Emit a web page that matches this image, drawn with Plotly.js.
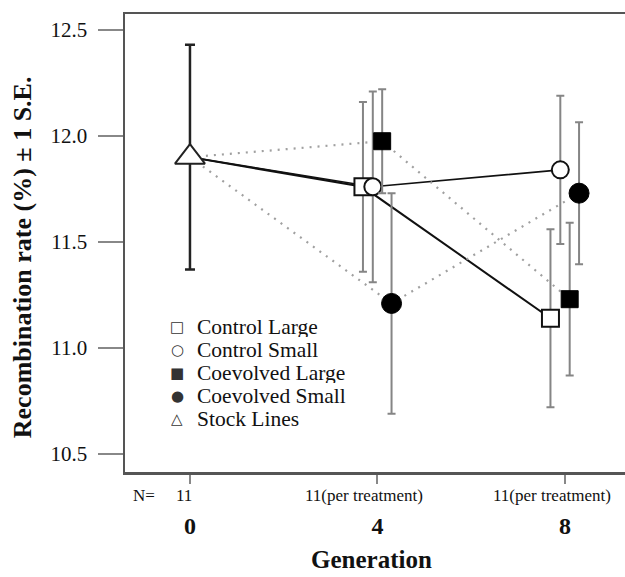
<!DOCTYPE html>
<html>
<head>
<meta charset="utf-8">
<script src="https://cdn.plot.ly/plotly-3.0.1.min.js"></script>
<style>html,body{margin:0;padding:0;background:#fff;}#chart{width:625px;height:577px;}</style>
</head>
<body>
<div id="chart"></div>
<script>
// ---- data ----
var generations = [0, 4, 8];
var genLabels = ['0', '4', '8'];
var nLabels = ['11', '11(per treatment)', '11(per treatment)'];

var stockMean = 11.90;
var stockSE = 0.53;

var seriesNames = ['Control Large', 'Control Small', 'Coevolved Large', 'Coevolved Small'];
// values at generation 4 and 8
var controlLargeMean = [11.76, 11.14];
var controlLargeSE = [0.40, 0.42];
var controlSmallMean = [11.76, 11.84];
var controlSmallSE = [0.45, 0.35];
var coevolvedLargeMean = [11.975, 11.23];
var coevolvedLargeSE = [0.245, 0.36];
var coevolvedSmallMean = [11.21, 11.73];
var coevolvedSmallSE = [0.52, 0.335];

var yTicks = [10.5, 11.0, 11.5, 12.0, 12.5];

// ---- styling ----
var serif = 'Liberation Serif, Times New Roman, serif';
var means = [controlLargeMean, controlSmallMean, coevolvedLargeMean, coevolvedSmallMean];
var ses = [controlLargeSE, controlSmallSE, coevolvedLargeSE, coevolvedSmallSE];
var dodge = [-0.31, -0.10, 0.10, 0.30];
var lineStyles = [
  {color: '#111', width: 2, dash: 'solid'},
  {color: '#111', width: 1.6, dash: 'solid'},
  {color: '#a0a0a0', width: 2.2, dash: '2px,6px'},
  {color: '#a0a0a0', width: 2.2, dash: '2px,6px'}
];
var markerStyles = [
  {symbol: 'square', size: 17, color: '#fff', line: {color: '#111', width: 2}},
  {symbol: 'circle', size: 17, color: '#fff', line: {color: '#111', width: 2}},
  {symbol: 'square', size: 17, color: '#000', line: {color: '#000', width: 1}},
  {symbol: 'circle', size: 20, color: '#000', line: {color: '#000', width: 1}}
];
var glyphs = ['\u25A1', '\u25CB', '\u25A0', '\u25CF', '\u25B3'];

var traces = [];
// connecting lines (from the stock-line mean at generation 0)
for (var i = 0; i < 4; i++) {
  traces.push({
    type: 'scatter', mode: 'lines', showlegend: false, hoverinfo: 'skip',
    x: [generations[0], generations[1] + dodge[i], generations[2] + dodge[i]],
    y: [stockMean, means[i][0], means[i][1]],
    line: lineStyles[i]
  });
}
// markers with error bars
for (var j = 0; j < 4; j++) {
  traces.push({
    type: 'scatter', mode: 'markers', name: seriesNames[j], showlegend: false,
    x: [generations[1] + dodge[j], generations[2] + dodge[j]],
    y: means[j],
    error_y: {type: 'data', array: ses[j], visible: true, color: '#858585', thickness: 2, width: 4},
    marker: markerStyles[j]
  });
}
// stock lines
traces.push({
  type: 'scatter', mode: 'markers', name: 'Stock Lines', showlegend: false,
  x: [generations[0]], y: [stockMean],
  error_y: {type: 'data', array: [stockSE], visible: true, color: '#222', thickness: 2.5, width: 5},
  marker: {symbol: 'triangle-up', size: 26, color: '#fff', line: {color: '#222', width: 2}}
});

var annotations = [];
// N row
annotations.push({xref: 'paper', yref: 'paper', x: 0.038, y: -0.052, text: 'N=', showarrow: false,
  font: {family: serif, size: 17, color: '#111'}, xanchor: 'center', yanchor: 'middle'});
var nShift = [-6, -13, -13];
for (var k = 0; k < generations.length; k++) {
  annotations.push({xref: 'x', yref: 'paper', x: generations[k], xshift: nShift[k], y: -0.052, text: nLabels[k],
    showarrow: false, font: {family: serif, size: 17, color: '#111'}, xanchor: 'center', yanchor: 'middle'});
}
// axis titles
annotations.push({xref: 'x', yref: 'paper', x: generations[1], xshift: -6, y: -0.19, text: 'Generation',
  showarrow: false, font: {family: serif, size: 25, weight: 'bold', color: '#111'}, xanchor: 'center', yanchor: 'middle'});
annotations.push({xref: 'paper', yref: 'paper', x: -0.206, y: 0.469, text: 'Recombination rate (%) \u00B1 1 S.E.',
  textangle: -90, showarrow: false, font: {family: serif, size: 26, weight: 'bold', color: '#111'},
  xanchor: 'center', yanchor: 'middle'});
// legend (key glyphs + labels)
var legendNames = seriesNames.concat(['Stock Lines']);
for (var m = 0; m < legendNames.length; m++) {
  var yy = (472 - (327 + 23 * m)) / 458;
  annotations.push({xref: 'paper', yref: 'paper', x: 0.104, y: yy, text: glyphs[m], showarrow: false,
    font: {family: 'DejaVu Sans', size: 15, color: '#333'}, xanchor: 'center', yanchor: 'middle',
    height: 20, valign: 'middle'});
  annotations.push({xref: 'paper', yref: 'paper', x: 0.14, y: yy, text: legendNames[m], showarrow: false,
    font: {family: serif, size: 21.5, color: '#111'}, xanchor: 'left', yanchor: 'middle',
    height: 20, valign: 'middle'});
}

var layout = {
  width: 625, height: 577,
  margin: {l: 125, r: 0, t: 14, b: 105},
  paper_bgcolor: '#fff', plot_bgcolor: '#fff',
  showlegend: false,
  xaxis: {
    range: [-1.386, 9.28], showgrid: false, zeroline: false,
    showline: true, linecolor: '#555', linewidth: 2.5, mirror: true,
    ticks: 'outside', ticklen: 9, tickwidth: 2, tickcolor: '#888',
    tickvals: generations, ticktext: genLabels,
    tickfont: {family: serif, size: 24, weight: 'bold', color: '#111'},
    ticklabelstandoff: 22
  },
  yaxis: {
    range: [10.415, 12.575], showgrid: false, zeroline: false,
    showline: true, linecolor: '#555', linewidth: 2.5,
    ticks: 'outside', ticklen: 25, tickwidth: 2, tickcolor: '#888',
    tickvals: yTicks, tickformat: '.1f',
    tickfont: {family: serif, size: 21, color: '#111'},
    ticklabelstandoff: 6
  },
  annotations: annotations
};

Plotly.newPlot('chart', traces, layout, {displayModeBar: false, staticPlot: true});
</script>
</body>
</html>
